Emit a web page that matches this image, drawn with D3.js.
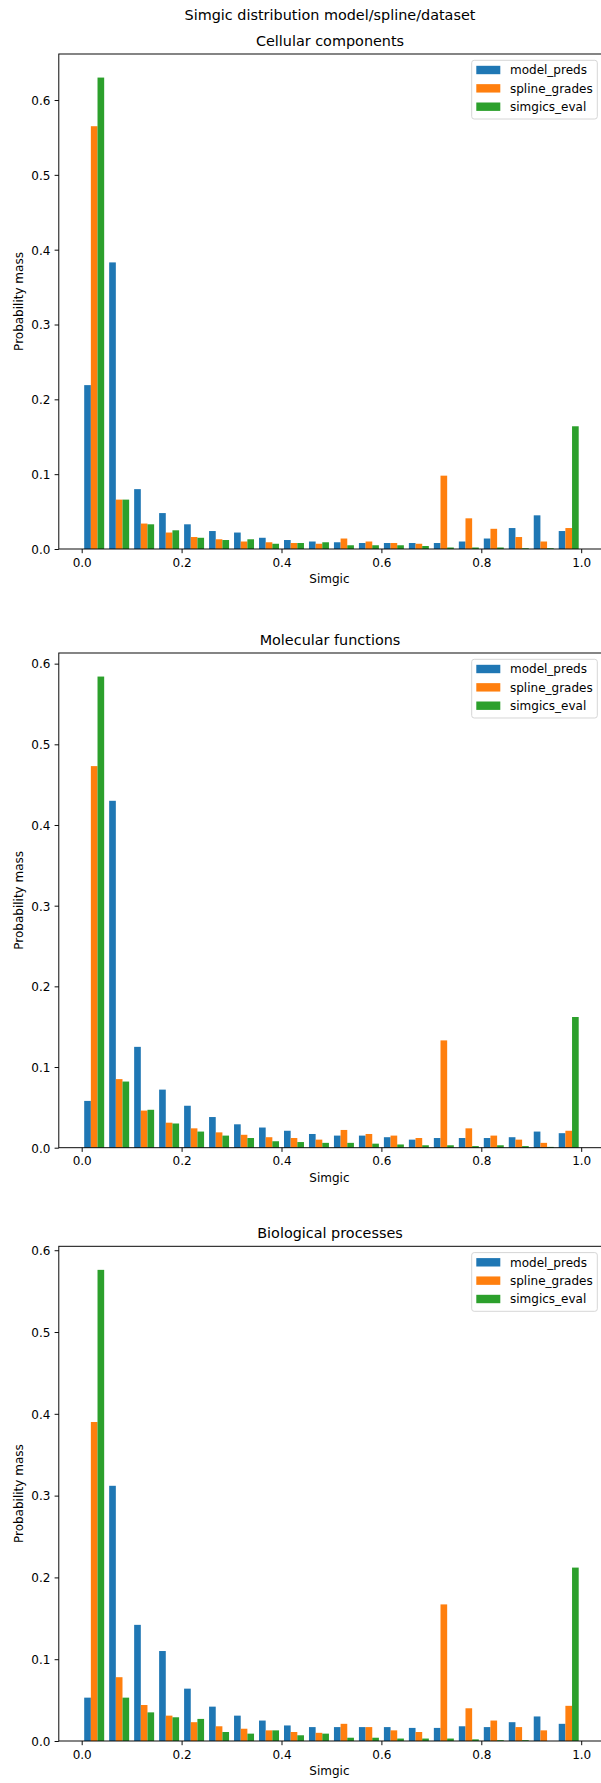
<!DOCTYPE html>
<html>
<head>
<meta charset="utf-8">
<script src="https://cdn.jsdelivr.net/npm/d3@7"></script>
<style>
  html, body { margin: 0; padding: 0; background: #fff; }
  svg { display: block; font-family: "DejaVu Sans", sans-serif; }
</style>
</head>
<body>
<svg id="chart" width="601" height="1783"></svg>
<script>
// Histogram bins: 20 equal-width bins over [0, 1]
const binStarts = [0.00, 0.05, 0.10, 0.15, 0.20, 0.25, 0.30, 0.35, 0.40, 0.45,
                   0.50, 0.55, 0.60, 0.65, 0.70, 0.75, 0.80, 0.85, 0.90, 0.95];
const binWidth = 0.05;

const seriesNames = ["model_preds", "spline_grades", "simgics_eval"];
const seriesColors = ["#1f77b4", "#ff7f0e", "#2ca02c"];

// Cellular components
const ccModel   = [0.219, 0.383, 0.080, 0.048, 0.033, 0.024, 0.022, 0.015, 0.012, 0.010,
                   0.009, 0.008, 0.008, 0.008, 0.008, 0.010, 0.014, 0.028, 0.045, 0.024];
const ccSpline  = [0.565, 0.066, 0.034, 0.022, 0.016, 0.013, 0.010, 0.009, 0.008, 0.007,
                   0.014, 0.010, 0.008, 0.007, 0.098, 0.041, 0.027, 0.016, 0.010, 0.028];
const ccSimgics = [0.630, 0.066, 0.033, 0.025, 0.015, 0.012, 0.013, 0.007, 0.008, 0.009,
                   0.005, 0.005, 0.005, 0.004, 0.002, 0.002, 0.002, 0.001, 0.001, 0.164];

// Molecular functions
const mfModel   = [0.058, 0.430, 0.125, 0.072, 0.052, 0.038, 0.029, 0.025, 0.021, 0.017,
                   0.015, 0.015, 0.013, 0.010, 0.012, 0.012, 0.012, 0.013, 0.020, 0.018];
const mfSpline  = [0.473, 0.085, 0.046, 0.031, 0.024, 0.019, 0.016, 0.013, 0.012, 0.010,
                   0.022, 0.017, 0.015, 0.012, 0.133, 0.024, 0.015, 0.010, 0.006, 0.021];
const mfSimgics = [0.584, 0.082, 0.047, 0.030, 0.020, 0.015, 0.012, 0.008, 0.007, 0.006,
                   0.006, 0.005, 0.004, 0.003, 0.003, 0.002, 0.003, 0.002, 0.001, 0.162];

// Biological processes
const bpModel   = [0.053, 0.312, 0.142, 0.110, 0.064, 0.042, 0.031, 0.025, 0.019, 0.017,
                   0.017, 0.017, 0.017, 0.016, 0.016, 0.018, 0.017, 0.023, 0.030, 0.021];
const bpSpline  = [0.390, 0.078, 0.044, 0.031, 0.023, 0.018, 0.015, 0.013, 0.011, 0.010,
                   0.021, 0.017, 0.013, 0.011, 0.167, 0.040, 0.025, 0.017, 0.013, 0.043];
const bpSimgics = [0.576, 0.053, 0.035, 0.029, 0.027, 0.011, 0.009, 0.013, 0.007, 0.009,
                   0.004, 0.004, 0.003, 0.003, 0.003, 0.002, 0.001, 0.001, 0.000, 0.212];

const xTicks = [0.0, 0.2, 0.4, 0.6, 0.8, 1.0];
const yTicks = [0.0, 0.1, 0.2, 0.3, 0.4, 0.5, 0.6];

const panels = [
  { title: "Cellular components",  series: [ccModel, ccSpline, ccSimgics], top: 54,     bottom: 549 },
  { title: "Molecular functions",  series: [mfModel, mfSpline, mfSimgics], top: 653,    bottom: 1147.7 },
  { title: "Biological processes", series: [bpModel, bpSpline, bpSimgics], top: 1246.3, bottom: 1741 }
];

const svg = d3.select("#chart");
const frameLeft = 58.8, frameRight = 603.3;
const fs = 12, titleFs = 14.4;

// x scale: data 0..1 mapped to the plotting area
const x = d3.scaleLinear().domain([0, 1]).range([81.7, 581.2]);

svg.append("text")
  .attr("x", 330).attr("y", 19.5)
  .attr("text-anchor", "middle")
  .attr("font-size", titleFs)
  .attr("fill", "#000")
  .text("Simgic distribution model/spline/dataset");

// bars fill 80% of each bin, split evenly between the three series
const groupWidth = binWidth * 0.8;
const barW = groupWidth / seriesNames.length;
const barOffset = binWidth * 0.1;

panels.forEach(p => {
  const maxVal = d3.max(p.series.flat());
  const y = d3.scaleLinear().domain([0, maxVal * 1.05]).range([p.bottom, p.top]);
  const g = svg.append("g");

  // bars
  p.series.forEach((vals, si) => {
    g.selectAll(null)
      .data(vals.map((v, i) => ({ x0: binStarts[i] + barOffset + si * barW, v })))
      .enter().append("rect")
      .attr("x", d => x(d.x0))
      .attr("width", d => x(d.x0 + barW) - x(d.x0))
      .attr("y", d => y(d.v))
      .attr("height", d => y(0) - y(d.v))
      .attr("fill", seriesColors[si]);
  });

  // frame
  g.append("rect")
    .attr("x", frameLeft).attr("y", p.top)
    .attr("width", frameRight - frameLeft).attr("height", p.bottom - p.top)
    .attr("fill", "none").attr("stroke", "#000").attr("stroke-width", 0.96);

  // x axis
  const xAxis = d3.axisBottom(x).tickValues(xTicks).tickFormat(d3.format(".1f"))
    .tickSize(4.2).tickPadding(4.2);
  const gx = g.append("g").attr("transform", `translate(0,${p.bottom})`).call(xAxis);
  gx.select(".domain").remove();
  gx.selectAll("line").attr("stroke", "#000").attr("stroke-width", 0.96);
  gx.selectAll("text").attr("font-size", fs).attr("fill", "#000")
    .attr("font-family", "DejaVu Sans").attr("dy", "0.78em");

  // y axis
  const yAxis = d3.axisLeft(y).tickValues(yTicks.filter(t => t <= maxVal * 1.05))
    .tickFormat(d3.format(".1f")).tickSize(4.2).tickPadding(4.2);
  const gy = g.append("g").attr("transform", `translate(${frameLeft},0)`).call(yAxis);
  gy.select(".domain").remove();
  gy.selectAll("line").attr("stroke", "#000").attr("stroke-width", 0.96);
  gy.selectAll("text").attr("font-size", fs).attr("fill", "#000")
    .attr("font-family", "DejaVu Sans").attr("dy", "0.36em");

  // axis labels
  g.append("text")
    .attr("x", (x(0) + x(1)) / 2 - 2).attr("y", p.bottom + 34)
    .attr("text-anchor", "middle").attr("font-size", fs).attr("fill", "#000")
    .text("Simgic");
  g.append("text")
    .attr("transform", `translate(22.5,${(p.top + p.bottom) / 2}) rotate(-90)`)
    .attr("text-anchor", "middle").attr("font-size", fs).attr("fill", "#000")
    .text("Probability mass");

  // panel title
  g.append("text")
    .attr("x", 330).attr("y", p.top - 8)
    .attr("text-anchor", "middle").attr("font-size", titleFs).attr("fill", "#000")
    .text(p.title);

  // legend
  const lg = g.append("g").attr("transform", `translate(471.7,${p.top + 6.3})`);
  lg.append("rect")
    .attr("x", 0).attr("y", 0).attr("width", 125.6).attr("height", 58.7)
    .attr("rx", 2.5).attr("ry", 2.5)
    .attr("fill", "rgba(255,255,255,0.8)").attr("stroke", "#d6d6d6").attr("stroke-width", 1);
  seriesNames.forEach((name, i) => {
    const cy = 9.7 + i * 18.35;
    lg.append("rect")
      .attr("x", 4.6).attr("y", cy - 4.2).attr("width", 24).attr("height", 8.4)
      .attr("fill", seriesColors[i]);
    lg.append("text")
      .attr("x", 38.3).attr("y", cy).attr("dy", "0.36em")
      .attr("font-size", fs).attr("fill", "#000")
      .text(name);
  });
});
</script>
</body>
</html>
